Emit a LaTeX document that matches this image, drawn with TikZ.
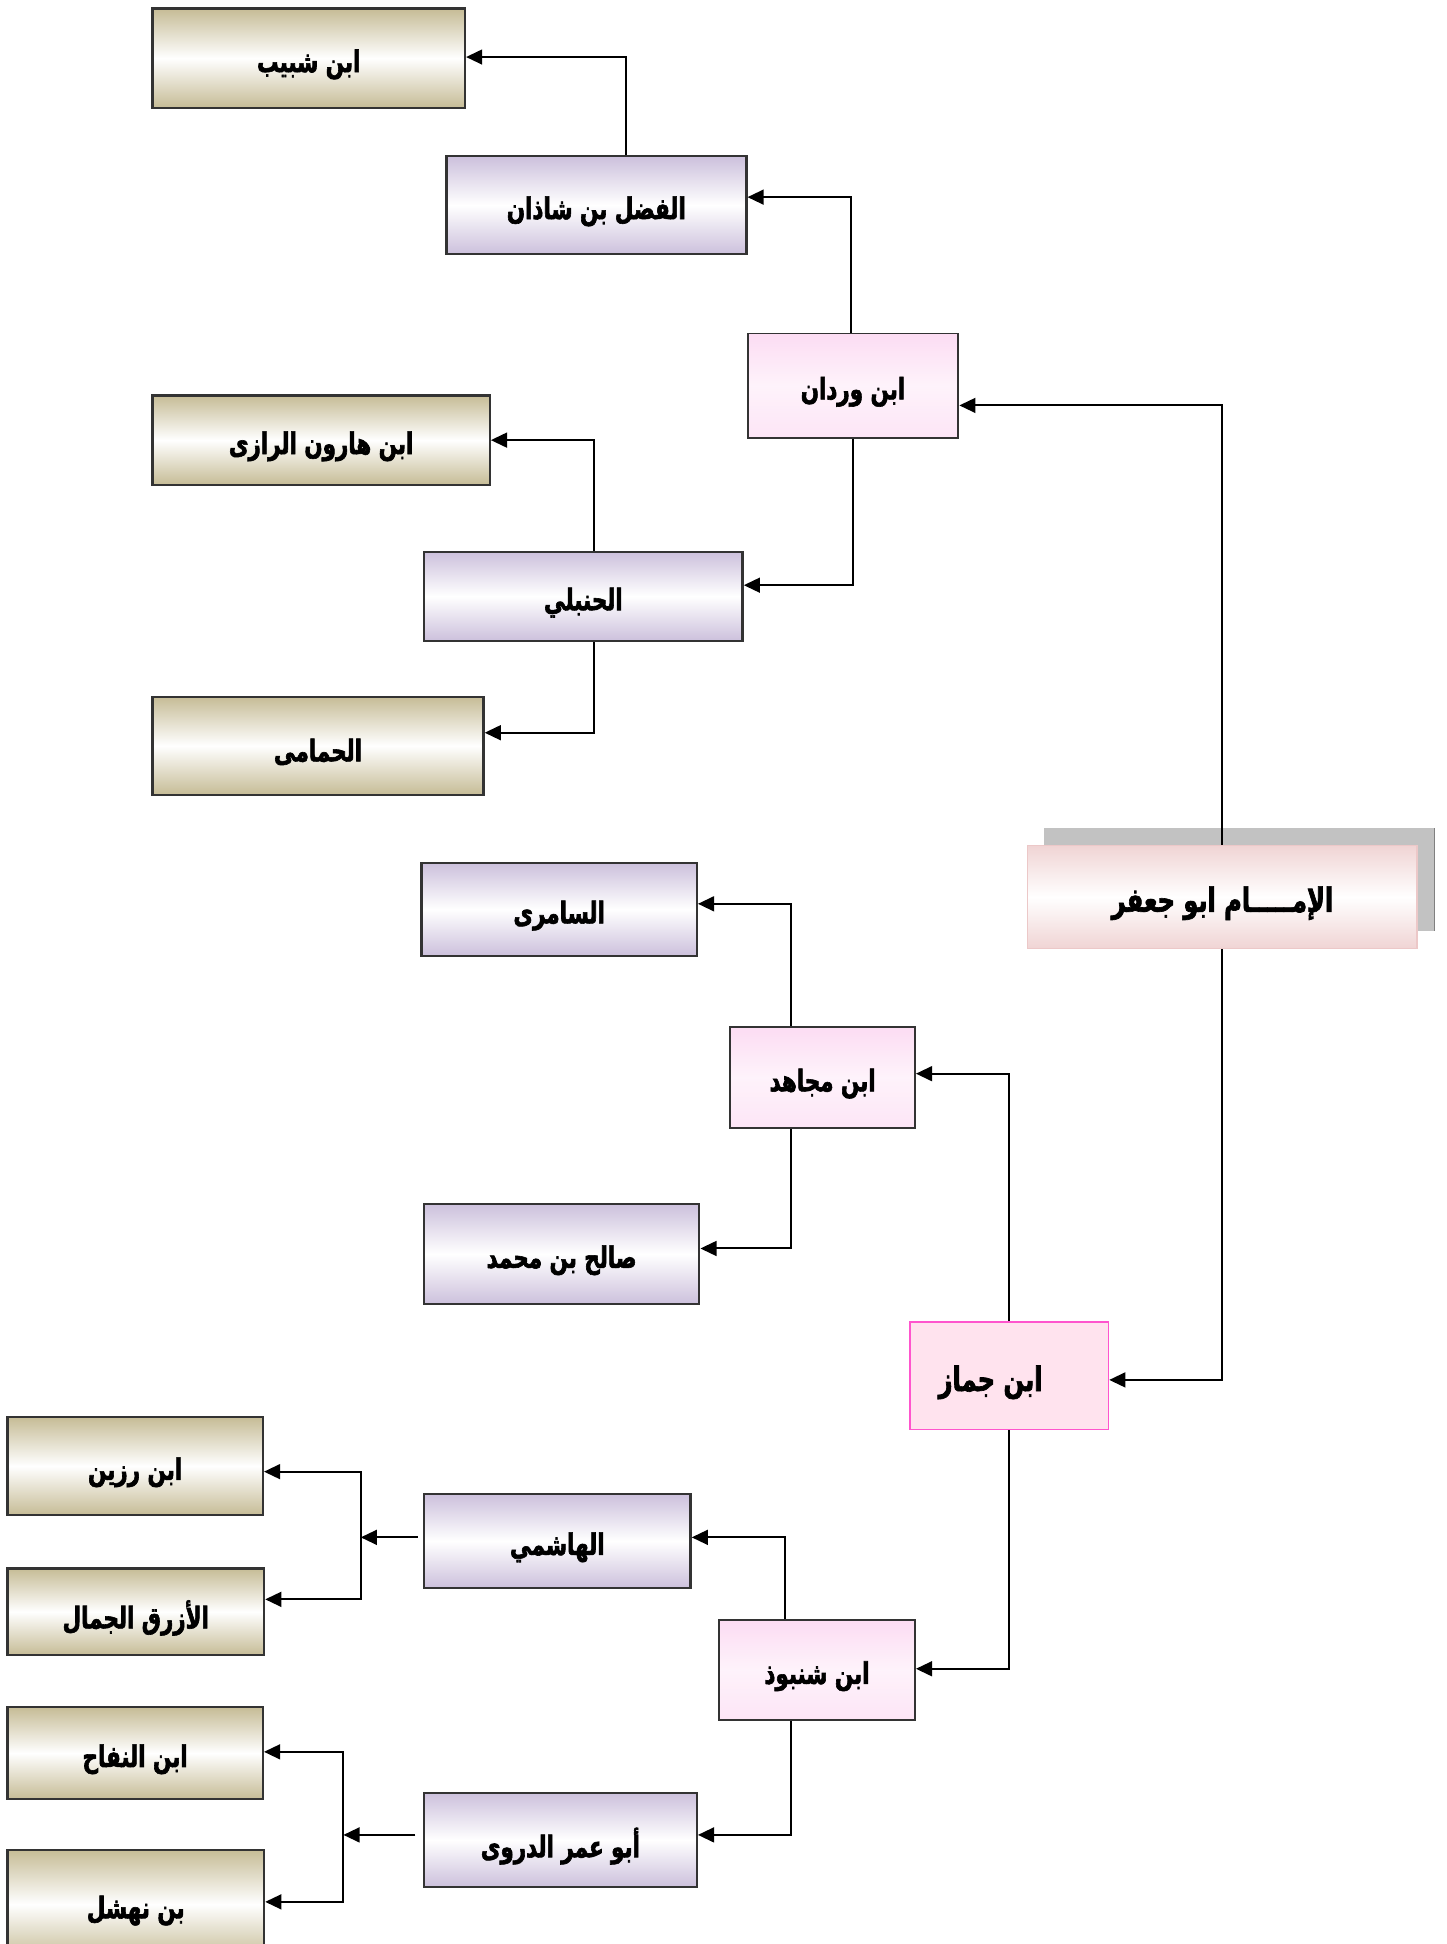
\documentclass[tikz,border=0pt]{standalone}
\usepackage{fontspec}
\newfontfamily\arabicfont[Script=Arabic, FakeStretch=0.72, BoldFeatures={FakeBold=2}]{DejaVu Sans}
\TeXXeTstate=1
\usetikzlibrary{arrows.meta}
\newcommand{\arlbl}[1]{\raisebox{-5pt}[\height][\depth]{\beginR #1\endR}}
\definecolor{khaki}{RGB}{198,188,150}
\definecolor{lav}{RGB}{204,192,220}
\definecolor{pinkl}{RGB}{252,220,243}
\definecolor{jamfill}{RGB}{255,227,238}
\definecolor{jamdraw}{RGB}{255,85,205}
\definecolor{imamc}{RGB}{240,212,212}
\definecolor{imamd}{RGB}{236,200,200}
\tikzset{
  lbl/.style={font=\arabicfont\bfseries\fontsize{24}{28}\selectfont, inner sep=0pt},
  khakibox/.style={lbl, draw=black!80, line width=1.9pt, top color=khaki, bottom color=khaki, middle color=white},
  lavbox/.style={lbl, draw=black!80, line width=1.9pt, top color=lav, bottom color=lav, middle color=white},
  pinkbox/.style={lbl, draw=black!80, line width=1.6pt, top color=pinkl, bottom color=pinkl!75, middle color=pinkl!35},
  jambox/.style={draw=jamdraw, line width=1.4pt, fill=jamfill, inner sep=0pt},
  imambox/.style={lbl, font=\arabicfont\bfseries\fontsize{27}{32}\selectfont, draw=imamd, line width=1pt, top color=imamc, bottom color=imamc, middle color=white},
  conn/.style={draw=black, line width=1.6pt, -{Triangle[length=13pt,width=12pt]}},
}
\begin{document}
\begin{tikzpicture}[x=1pt,y=-1pt]
\useasboundingbox (0,0) rectangle (1167,1568);
\fill[white] (0,0) rectangle (1167,1568);
% shadow of the top node
\fill[black!24] (842,668) rectangle (1157,751);
\draw[black!50, line width=1pt] (1157,668) -- (1157,751);
% nodes
\node[khakibox, minimum width=252, minimum height=80] (shabib) at (249,47) {\arlbl{ابن شبيب}};
\node[lavbox, minimum width=242, minimum height=79] (fadl) at (481,165.5) {\arlbl{الفضل بن شاذان}};
\node[pinkbox, minimum width=170, minimum height=84] (wardan) at (688,311) {\arlbl{ابن وردان}};
\node[khakibox, minimum width=272, minimum height=72] (harun) at (259,355) {\arlbl{ابن هارون الرازى}};
\node[lavbox, minimum width=257, minimum height=72] (hanbali) at (470.5,481) {\arlbl{الحنبلي}};
\node[khakibox, minimum width=267, minimum height=79] (hamami) at (256.5,601.5) {\arlbl{الحمامى}};
\node[imambox, minimum width=314, minimum height=83] (imam) at (986,723.5) {\arlbl{الإمـــــام ابو جعفر}};
\node[lavbox, minimum width=222, minimum height=75] (samiri) at (451,733.5) {\arlbl{السامرى}};
\node[pinkbox, minimum width=149, minimum height=82] (mujahid) at (663.5,869) {\arlbl{ابن مجاهد}};
\node[lavbox, minimum width=222, minimum height=81] (salih) at (453,1011.5) {\arlbl{صالح بن محمد}};
\node[jambox, minimum width=160, minimum height=87] (jammaz) at (814,1109.5) {};
\node[lbl, font=\arabicfont\bfseries\fontsize{27}{32}\selectfont] (jammazlbl) at (799,1110) {\arlbl{ابن جماز}};
\node[khakibox, minimum width=206, minimum height=79] (razin) at (109,1182.5) {\arlbl{ابن رزين}};
\node[lavbox, minimum width=215, minimum height=76] (hashimi) at (449.5,1243) {\arlbl{الهاشمي}};
\node[khakibox, minimum width=207, minimum height=70] (azraq) at (109.5,1300) {\arlbl{الأزرق الجمال}};
\node[pinkbox, minimum width=158, minimum height=80] (shanbudh) at (659,1347) {\arlbl{ابن شنبوذ}};
\node[khakibox, minimum width=206, minimum height=74] (naffah) at (109,1414) {\arlbl{ابن النفاح}};
\node[lavbox, minimum width=220, minimum height=76] (durri) at (452,1484) {\arlbl{أبو عمر الدروى}};
\node[khakibox, minimum width=207, minimum height=88] (nahshal) at (109.5,1536) {\arlbl{بن نهشل}};
% connectors
\draw[conn] (imam.north) |- ([yshift=-16pt]wardan.east);
\draw[conn] (imam.south) |- ([yshift=-3.5pt]jammaz.east);
\draw[conn] ([xshift=-2pt]wardan.north) |- ([yshift=6.5pt]fadl.east);
\draw[conn] (wardan.south) |- ([yshift=9pt]hanbali.east);
\draw[conn] ([xshift=24pt]fadl.north) |- ([yshift=1pt]shabib.east);
\draw[conn] ([xshift=8.5pt]hanbali.north) |- (harun.east);
\draw[conn] ([xshift=8.5pt]hanbali.south) |- ([yshift=10.5pt]hamami.east);
\draw[conn] (jammaz.north) |- ([yshift=3pt]mujahid.east);
\draw[conn] (jammaz.south) |- ([yshift=1pt]shanbudh.east);
\draw[conn] ([xshift=-25.5pt]mujahid.north) |- ([yshift=4.5pt]samiri.east);
\draw[conn] ([xshift=-25.5pt]mujahid.south) |- ([yshift=4.5pt]salih.east);
\draw[conn] ([xshift=-26pt]shanbudh.north) |- ([yshift=3pt]hashimi.east);
\draw[conn] ([xshift=-21pt]shanbudh.south) |- ([yshift=4pt]durri.east);
% brackets
\coordinate (hj) at (291,1240);
\draw[conn] ([xshift=-4pt,yshift=3pt]hashimi.west) -- (hj);
\draw[conn] (hj) |- ([yshift=-4.5pt]razin.east);
\draw[conn] (hj) |- ([yshift=10pt]azraq.east);
\coordinate (dj) at (277,1480);
\draw[conn] ([xshift=-6pt,yshift=4pt]durri.west) -- (dj);
\draw[conn] (dj) |- ([yshift=1pt]naffah.east);
\draw[conn] (dj) |- ([yshift=2pt]nahshal.east);
\end{tikzpicture}
\end{document}
